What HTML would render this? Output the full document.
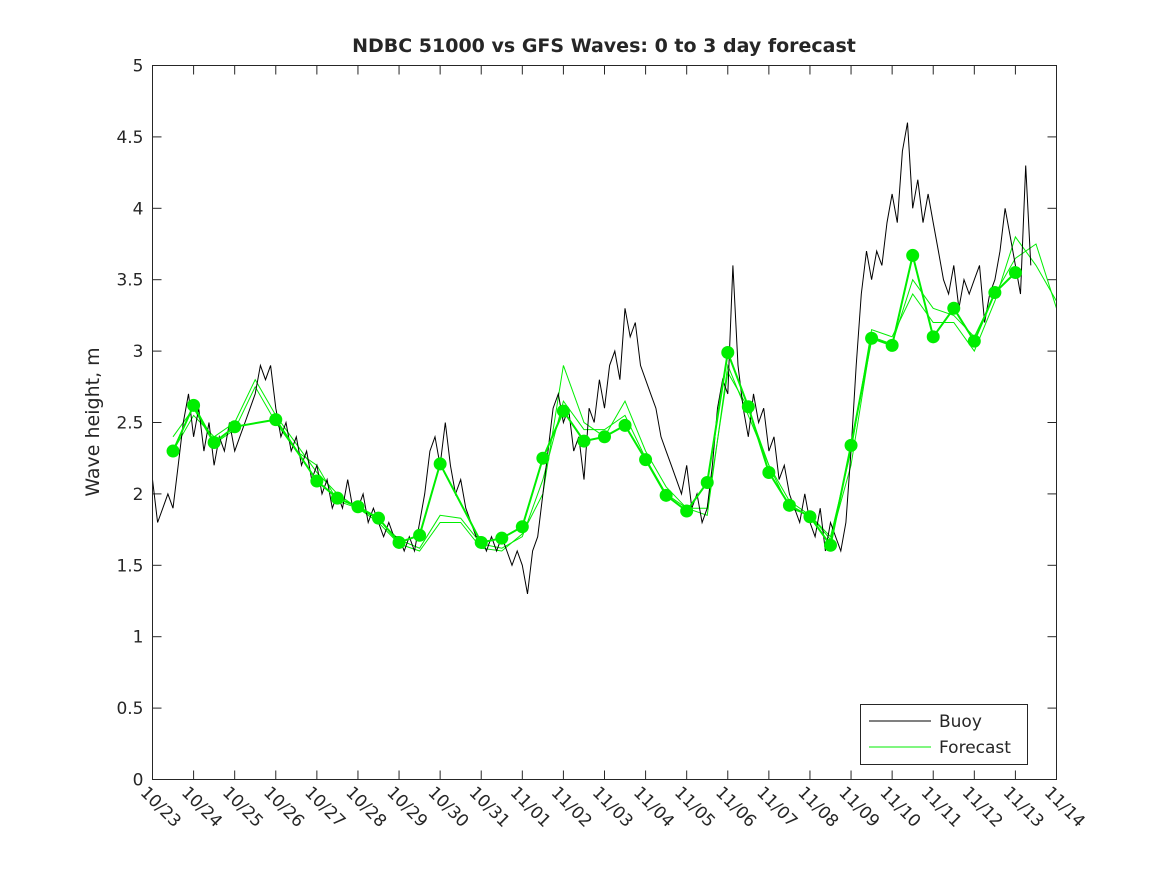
<!DOCTYPE html>
<html><head><meta charset="utf-8"><style>
body{margin:0;background:#fff;}
svg text{font-family:"DejaVu Sans","Liberation Sans",sans-serif;fill:#262626;}
</style></head><body>
<svg id="chart" width="1167" height="875" xmlns="http://www.w3.org/2000/svg">
<rect x="0" y="0" width="1167" height="875" fill="#fff"/>
<text x="604" y="52" text-anchor="middle" font-size="19" font-weight="bold" fill="#000">NDBC 51000 vs GFS Waves: 0 to 3 day forecast</text>
<text transform="translate(99,422) rotate(-90)" text-anchor="middle" font-size="19">Wave height, m</text>
<g id="axes"></g>
<g id="marks"></g>
<rect x="152.5" y="65.5" width="904" height="714" fill="none" stroke="#262626" stroke-width="1"/>
<g>
<rect x="860.5" y="704.5" width="167" height="60" fill="#fff" stroke="#262626"/>
<line x1="869" y1="721" x2="931" y2="721" stroke="#000"/>
<text x="939" y="727" font-size="17">Buoy</text>
<line x1="869" y1="747" x2="931" y2="747" stroke="#00ee00"/>
<text x="939" y="753" font-size="17">Forecast</text>
</g>
</svg>
<script>
const xLabels=["10/23","10/24","10/25","10/26","10/27","10/28","10/29","10/30","10/31","11/01","11/02","11/03","11/04","11/05","11/06","11/07","11/08","11/09","11/10","11/11","11/12","11/13","11/14"];
const yTicks=[0,0.5,1,1.5,2,2.5,3,3.5,4,4.5,5];
const yTickLabels=["0","0.5","1","1.5","2","2.5","3","3.5","4","4.5","5"];
const buoy=[2.1,1.8,1.9,2.0,1.9,2.2,2.5,2.7,
2.4,2.6,2.3,2.5,2.2,2.4,2.3,2.5,
2.3,2.4,2.5,2.6,2.7,2.9,2.8,2.9,
2.6,2.4,2.5,2.3,2.4,2.2,2.3,2.1,
2.2,2.0,2.1,1.9,2.0,1.9,2.1,1.9,
1.9,2.0,1.8,1.9,1.8,1.7,1.8,1.7,
1.7,1.6,1.7,1.6,1.8,2.0,2.3,2.4,
2.2,2.5,2.2,2.0,2.1,1.9,1.8,1.7,
1.7,1.6,1.7,1.6,1.7,1.6,1.5,1.6,
1.5,1.3,1.6,1.7,2.0,2.3,2.6,2.7,
2.5,2.6,2.3,2.4,2.1,2.6,2.5,2.8,
2.6,2.9,3.0,2.8,3.3,3.1,3.2,2.9,
2.8,2.7,2.6,2.4,2.3,2.2,2.1,2.0,
2.2,1.9,2.0,1.8,1.9,2.2,2.6,2.8,
2.7,3.6,2.9,2.6,2.4,2.7,2.5,2.6,
2.3,2.4,2.1,2.2,2.0,1.9,1.8,2.0,
1.8,1.7,1.9,1.6,1.8,1.7,1.6,1.8,
2.3,2.9,3.4,3.7,3.5,3.7,3.6,3.9,
4.1,3.9,4.4,4.6,4.0,4.2,3.9,4.1,
3.9,3.7,3.5,3.4,3.6,3.3,3.5,3.4,
3.5,3.6,3.2,3.4,3.5,3.7,4.0,3.8,
3.6,3.4,4.3,3.6];
const buoyStepDays=0.125;
const dotDays=[0.5,1,1.5,2,3,4,4.5,5,5.5,6,6.5,7,8,8.5,9,9.5,10,10.5,11,11.5,12,12.5,13,13.5,14,14.5,15,15.5,16,16.5,17,17.5,18,18.5,19,19.5,20,20.5,21];
const dotValues=[2.30,2.62,2.36,2.47,2.52,2.09,1.97,1.91,1.83,1.66,1.71,2.21,1.66,1.69,1.77,2.25,2.58,2.37,2.40,2.48,2.24,1.99,1.88,2.08,2.99,2.61,2.15,1.92,1.84,1.64,2.34,3.09,3.04,3.67,3.10,3.30,3.07,3.41,3.55];
const fStart=0.5, fStep=0.5;
const f1=[2.3,2.55,2.4,2.5,2.8,2.55,2.35,2.15,2.0,1.9,1.82,1.68,1.62,1.85,1.83,1.65,1.62,1.7,2.1,2.65,2.45,2.45,2.55,2.25,2.0,1.9,1.9,2.85,2.6,2.2,1.95,1.85,1.68,2.2,3.1,3.05,3.5,3.3,3.25,3.1,3.4,3.65,3.75,3.3];
const f2=[2.4,2.6,2.35,2.45,2.75,2.5,2.3,2.2,1.95,1.9,1.8,1.65,1.6,1.8,1.8,1.62,1.6,1.72,2.0,2.9,2.5,2.4,2.65,2.3,2.05,1.9,1.85,2.9,2.55,2.2,1.9,1.85,1.7,2.3,3.15,3.1,3.4,3.2,3.2,3.0,3.35,3.8,3.6,3.35];

const X0=152.5,X1=1056.5,Y0=779.5,Y1=65.5;
const xs=d=>X0+(X1-X0)*d/22;
const ys=v=>Y0-(Y0-Y1)*v/5;
const NS="http://www.w3.org/2000/svg";
const axes=document.getElementById('axes'), marks=document.getElementById('marks');
function mk(tag,attrs,parent){const e=document.createElementNS(NS,tag);for(const k in attrs)e.setAttribute(k,attrs[k]);parent.appendChild(e);return e;}
yTicks.forEach((v,i)=>{
  const y=ys(v);
  const t=mk('line',{x1:X0,y1:y,x2:X0+9,y2:y,stroke:'#262626'},axes);
  
  
  const t2=mk('line',{x1:X1,y1:y,x2:X1-9,y2:y,stroke:'#262626'},axes);
  
  
  const l=mk('text',{x:X0-9,y:y+6,'text-anchor':'end','font-size':'17'},axes);
  l.textContent=yTickLabels[i];
  
  
});
xLabels.forEach((s,i)=>{
  const x=xs(i);
  const t=mk('line',{x1:x,y1:Y0,x2:x,y2:Y0-9,stroke:'#262626'},axes);
  
  
  const t2=mk('line',{x1:x,y1:Y1,x2:x,y2:Y1+9,stroke:'#262626'},axes);
  
  
  const l=mk('text',{transform:`translate(${x-13},${Y0+14}) rotate(45)`,'font-size':'17'},axes);
  l.textContent=s;
  
  
});
function pts(arr,start,step){return arr.map((v,i)=>xs(start+i*step).toFixed(1)+','+ys(v).toFixed(1)).join(' ');}
const fl1=mk('polyline',{points:pts(f1,fStart,fStep),fill:'none',stroke:'#00ee00','stroke-width':1},marks);


const fl2=mk('polyline',{points:pts(f2,fStart,fStep),fill:'none',stroke:'#00ee00','stroke-width':1},marks);


const bl=mk('polyline',{points:pts(buoy,0,buoyStepDays),fill:'none',stroke:'#000','stroke-width':1},marks);


const dl=mk('polyline',{points:dotDays.map((d,i)=>xs(d).toFixed(1)+','+ys(dotValues[i]).toFixed(1)).join(' '),fill:'none',stroke:'#00ee00','stroke-width':2},marks);


dotDays.forEach((d,i)=>{
  const c=mk('circle',{cx:xs(d),cy:ys(dotValues[i]),r:6.5,fill:'#00ee00'},marks);
  
  
});
</script>
</body></html>
